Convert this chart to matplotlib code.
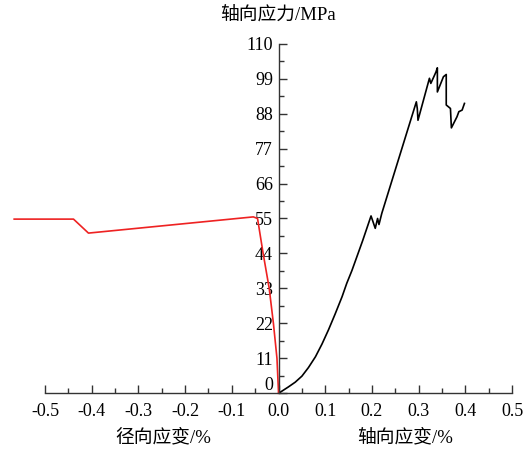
import matplotlib
matplotlib.use("Agg")
import matplotlib.pyplot as plt
import matplotlib.transforms as mtransforms
from matplotlib.ticker import MultipleLocator

plt.rcParams['font.family'] = ['Liberation Serif', 'Noto Sans CJK SC', 'DejaVu Sans']

# axial strain (%) vs axial stress (MPa)
axial_strain = [0.0, 0.021, 0.0357, 0.05, 0.064, 0.079, 0.093, 0.107, 0.121,
                0.136, 0.146, 0.157, 0.169, 0.180, 0.198,
                0.207, 0.212, 0.215, 0.221, 0.295, 0.297, 0.2985, 0.323,
                0.326, 0.334, 0.337, 0.340, 0.340, 0.353, 0.359, 0.359,
                0.364, 0.368, 0.370, 0.382, 0.386, 0.393, 0.398]
axial_stress = [0.0, 2.0, 3.5, 5.4, 8.1, 11.5, 15.5, 20.0, 24.9,
                30.4, 34.6, 38.6, 43.5, 48.0, 55.8,
                51.9, 55.0, 53.1, 56.6, 91.7, 89.6, 85.9, 99.1,
                97.5, 100.1, 101.1, 102.4, 94.8, 99.6, 100.3, 90.7,
                90.1, 89.6, 83.5, 87.0, 88.6, 89.1, 91.2]

# radial strain (%) vs axial stress (MPa)
radial_strain = [0.0, -0.0034, -0.011, -0.020, -0.033, -0.045, -0.054,
                 -0.407, -0.439, -0.566]
radial_stress = [0.0, 11.0, 22.0, 33.0, 44.0, 55.0, 55.5,
                 50.4, 54.8, 54.8]

fig = plt.figure(figsize=(5.32, 4.5), dpi=100)
ax = fig.add_axes([0.0846, 0.126, 0.878, 0.777])

ax.plot(axial_strain, axial_stress, color='black', lw=1.2)
ax.plot(radial_strain, radial_stress, color='#ee2222', lw=1.2, clip_on=False)

ax.set_xlim(-0.5, 0.5)
ax.set_ylim(0, 110)

ax.spines['left'].set_position(('data', 0))
ax.spines['bottom'].set_position(('data', 0))
ax.spines['top'].set_visible(False)
ax.spines['right'].set_visible(False)
for s in ('left', 'bottom'):
    ax.spines[s].set_color('#333333')
    ax.spines[s].set_linewidth(1.0)

ax.xaxis.set_major_locator(MultipleLocator(0.1))
ax.xaxis.set_minor_locator(MultipleLocator(0.05))
ax.yaxis.set_major_locator(MultipleLocator(11))
ax.yaxis.set_minor_locator(MultipleLocator(5.5))

ax.tick_params(which='both', direction='in', color='#333333', width=1.0,
               labelsize=13, labelcolor='black')
ax.tick_params(which='major', length=6)
ax.tick_params(which='minor', length=3.5)
ax.tick_params(axis='x', pad=7)
ax.tick_params(axis='y', pad=4)

ax.set_xticks([-0.5, -0.4, -0.3, -0.2, -0.1, 0.0, 0.1, 0.2, 0.3, 0.4, 0.5])
ax.set_xticklabels(['-0.5', '-0.4', '-0.3', '-0.2', '-0.1', '0.0',
                    '0.1', '0.2', '0.3', '0.4', '0.5'])

# move the "0" stress label up so it clears the x axis
fig.canvas.draw()
for lab in ax.get_yticklabels():
    if lab.get_text() == '0':
        lab.set_transform(lab.get_transform() +
                          mtransforms.ScaledTranslation(0, 7 / 72, fig.dpi_scale_trans))

fig.text(278 / 532, 1 - 15 / 450, '轴向应力/MPa', ha='center', va='center', fontsize=13.5)
fig.text(163 / 532, 1 - 438 / 450, '径向应变/%', ha='center', va='center', fontsize=13.5)
fig.text(405 / 532, 1 - 438 / 450, '轴向应变/%', ha='center', va='center', fontsize=13.5)

plt.savefig('out.png', dpi=100)
plt.close()
